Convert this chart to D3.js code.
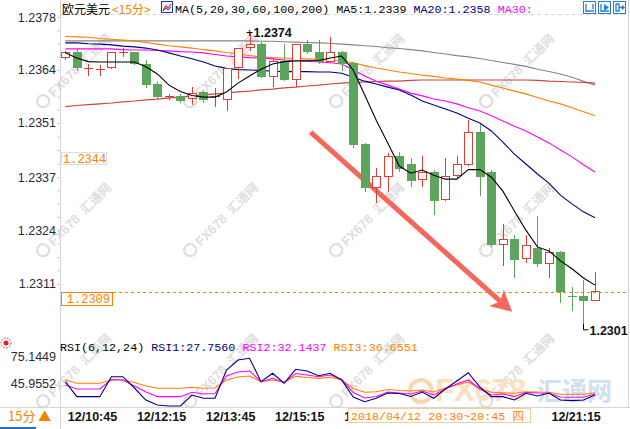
<!DOCTYPE html>
<html><head><meta charset="utf-8">
<script src="https://cdn.jsdelivr.net/npm/d3@7"></script>
<style>body{margin:0;background:#fff;overflow:hidden}svg{display:block}</style>
</head><body><svg id="c" width="630" height="429"></svg>
<script>
// ---------- DATA ----------
const opens  = [1.23678,1.23692,1.23650,1.23648,1.23651,1.23690,1.23691,1.23661,1.23611,1.23580,1.23582,1.23575,1.23592,1.23581,1.23572,1.23651,1.23701,1.23712,1.23630,1.23670,1.23622,1.23712,1.23691,1.23668,1.23691,1.23664,1.23461,1.23352,1.23379,1.23431,1.23411,1.23371,1.23392,1.23321,1.23381,1.23409,1.23491,1.23391,1.23209,1.23223,1.23172,1.23201,1.23161,1.23189,1.23081,1.23080,1.23068];
const highs  = [1.23695,1.23700,1.23661,1.23660,1.23692,1.23701,1.23693,1.23672,1.23619,1.23588,1.23588,1.23605,1.23597,1.23601,1.23652,1.23701,1.23742,1.23718,1.23676,1.23712,1.23713,1.23722,1.23722,1.23731,1.23695,1.23666,1.23463,1.23402,1.23439,1.23442,1.23425,1.23431,1.23395,1.23425,1.23431,1.23521,1.23511,1.23395,1.23260,1.23233,1.23233,1.23281,1.23199,1.23192,1.23102,1.23120,1.23141];
const lows   = [1.23672,1.23645,1.23633,1.23633,1.23650,1.23680,1.23659,1.23603,1.23572,1.23572,1.23565,1.23559,1.23565,1.23555,1.23545,1.23624,1.23695,1.23628,1.23605,1.23620,1.23605,1.23686,1.23661,1.23664,1.23644,1.23450,1.23342,1.23312,1.23342,1.23392,1.23354,1.23354,1.23283,1.23318,1.23373,1.23405,1.23331,1.23202,1.23155,1.23124,1.23163,1.23153,1.23124,1.23063,1.23042,1.23010,1.23066];
const closes = [1.23691,1.23651,1.23652,1.23649,1.23691,1.23691,1.23661,1.23609,1.23580,1.23581,1.23569,1.23590,1.23572,1.23582,1.23651,1.23701,1.23711,1.23630,1.23670,1.23622,1.23712,1.23691,1.23668,1.23691,1.23662,1.23459,1.23352,1.23381,1.23431,1.23398,1.23369,1.23392,1.23318,1.23381,1.23410,1.23491,1.23379,1.23209,1.23222,1.23170,1.23208,1.23160,1.23189,1.23090,1.23079,1.23067,1.23092];

const ma5   = [1.23690,1.23677,1.23668,1.23667,1.23667,1.23667,1.23667,1.23655,1.23637,1.23609,1.23593,1.23583,1.23579,1.23579,1.23592,1.23614,1.23632,1.23649,1.23662,1.23668,1.23670,1.23670,1.23671,1.23677,1.23682,1.23647,1.23584,1.23521,1.23464,1.23406,1.23388,1.23396,1.23383,1.23373,1.23373,1.23397,1.23397,1.23378,1.23343,1.23293,1.23245,1.23203,1.23193,1.23168,1.23148,1.23125,1.23107];
const ma20  = [1.23715,1.23715,1.23713,1.23712,1.23710,1.23707,1.23705,1.23702,1.23697,1.23690,1.23682,1.23675,1.23667,1.23657,1.23651,1.23648,1.23647,1.23646,1.23644,1.23643,1.23643,1.23643,1.23642,1.23642,1.23639,1.23629,1.23619,1.23612,1.23604,1.23597,1.23584,1.23569,1.23559,1.23549,1.23539,1.23526,1.23514,1.23494,1.23466,1.23436,1.23411,1.23386,1.23363,1.23333,1.23311,1.23291,1.23276];
const ma30  = [1.23700,1.23700,1.23700,1.23700,1.23700,1.23698,1.23697,1.23697,1.23696,1.23695,1.23693,1.23692,1.23690,1.23686,1.23682,1.23680,1.23678,1.23677,1.23675,1.23672,1.23671,1.23670,1.23667,1.23665,1.23662,1.23647,1.23632,1.23619,1.23609,1.23599,1.23589,1.23582,1.23574,1.23569,1.23562,1.23552,1.23544,1.23532,1.23519,1.23506,1.23494,1.23479,1.23464,1.23446,1.23429,1.23409,1.23391];
const ma60  = [1.23731,1.23730,1.23729,1.23726,1.23724,1.23722,1.23720,1.23716,1.23712,1.23708,1.23705,1.23702,1.23698,1.23695,1.23691,1.23687,1.23683,1.23680,1.23678,1.23677,1.23676,1.23675,1.23673,1.23672,1.23671,1.23665,1.23658,1.23652,1.23647,1.23642,1.23638,1.23634,1.23631,1.23627,1.23624,1.23621,1.23617,1.23609,1.23602,1.23594,1.23587,1.23578,1.23569,1.23562,1.23552,1.23542,1.23532];
const ma100 = [1.23555,1.23558,1.23560,1.23562,1.23564,1.23567,1.23569,1.23572,1.23574,1.23577,1.23579,1.23582,1.23584,1.23587,1.23589,1.23592,1.23594,1.23597,1.23599,1.23602,1.23604,1.23607,1.23609,1.23612,1.23614,1.23616,1.23617,1.23618,1.23619,1.23619,1.23621,1.23622,1.23622,1.23622,1.23622,1.23622,1.23622,1.23622,1.23622,1.23622,1.23622,1.23621,1.23619,1.23618,1.23617,1.23616,1.23614];
const ma200 = [1.23720,1.23720,1.23720,1.23720,1.23720,1.23720,1.23720,1.23720,1.23720,1.23720,1.23720,1.23720,1.23720,1.23720,1.23720,1.23720,1.23720,1.23719,1.23719,1.23718,1.23717,1.23716,1.23715,1.23714,1.23712,1.23710,1.23708,1.23706,1.23703,1.23701,1.23698,1.23695,1.23691,1.23687,1.23683,1.23680,1.23676,1.23671,1.23666,1.23661,1.23656,1.23649,1.23643,1.23637,1.23629,1.23619,1.23609];

const rsi1 = [47.7,31.3,31.3,31.3,53.2,53.2,40.8,27.6,22.2,21.1,21.1,33.1,29.5,29.5,60.5,71.5,73.4,47.7,56.9,46.0,61.3,59.5,54.3,56.9,49.6,30.9,25.8,29.5,35.3,34.8,31.5,36.4,29.5,39.7,48.5,57.6,41.9,31.3,31.3,27.6,35.0,32.0,35.3,27.6,26.9,27.6,33.1];
const rsi2 = [44.1,39.7,39.7,39.7,50.1,49.6,43.0,36.4,31.3,31.3,31.3,36.1,34.2,34.8,54.0,58.4,59.5,47.7,51.4,46.6,56.7,55.1,53.2,55.1,50.1,35.9,29.8,31.5,36.4,35.3,34.2,37.5,33.1,39.7,45.2,49.6,39.7,33.1,34.2,31.5,35.9,35.3,35.0,30.9,30.6,30.6,34.2];
const rsi3 = [49.6,46.0,46.0,46.0,49.6,49.6,46.8,43.0,40.5,40.5,40.5,41.6,40.5,40.8,49.6,52.9,54.0,47.7,49.6,47.1,53.6,52.3,51.4,52.5,49.6,40.3,36.1,36.7,39.2,38.1,37.5,38.6,36.4,40.8,44.1,47.4,39.7,36.1,35.5,35.0,36.7,36.4,36.1,33.9,33.9,33.9,35.6];

const yTickVals   = [1.23780,1.23647,1.23514,1.23378,1.23245,1.23110];
const yTickLabels = ["1.2378","1.2364","1.2351","1.2337","1.2324","1.2311"];
const rsiTickVals   = [75.1449,45.9552];
const rsiTickLabels = ["75.1449","45.9552"];
const timeIdx    = [0,6,12,18,24,42];
const timeLabels = ["12/10:45","12/12:15","12/13:45","12/15:15","12/16:45","12/21:15"];
const maHeader  = ["1.2339","1.2358"];
const rsiHeader = ["27.7560","32.1437","36.6551"];
const refPrice  = 1.2344;
const lastPrice = 1.2309;
const hiLabel = {i:16, p:1.2374, t:"1.2374"};
const loLabel = {i:45, p:1.2301, t:"1.2301"};
const arrowPts = [{i:21.3, p:1.23491},{i:38.8, p:1.23040}];
const cursorText = "2018/04/12 20:30~20:45 四";

// ---------- SCALES ----------
const svg = d3.select('#c');
const x  = d3.scaleLinear().domain([0,46]).range([65.3,595]);
const y  = d3.scaleLinear().domain([1.2378,1.2301]).range([17,323.8]);
const yr = d3.scaleLinear().domain([45.9552,75.1449]).range([383.3,356.7]);
const UP='#dc3f36', DN='#5da55d';
const mono = "'Liberation Mono','DejaVu Sans Mono',monospace";
const sans = "'Liberation Sans',Arial,sans-serif";
const cjk  = "'Noto Sans CJK SC',sans-serif";

// ---------- FRAME ----------
svg.append('rect').attr('width',630).attr('height',429).attr('fill','#fff');
const defs = svg.append('defs');
defs.append('clipPath').attr('id','tclip').append('rect').attr('x',0).attr('y',400).attr('width',348).attr('height',29);

// watermarks
const wmG = svg.append('g');
[75,222,368,518].forEach(cx=>[75,224,375].forEach(cy=>{
  const g = wmG.append('g').attr('transform',`translate(${cx},${cy}) rotate(-45)`);
  g.append('circle').attr('cx',-41).attr('cy',-4).attr('r',6).attr('fill','none').attr('stroke','#dedede').attr('stroke-width',2.2);
  g.append('text').attr('x',-31).attr('y',1).attr('font-family',sans).attr('font-weight','bold').attr('font-size',13)
   .attr('fill','#dedede').text('FX678 ');
  g.append('text').attr('x',14).attr('y',1).attr('font-family',cjk).attr('font-weight','bold').attr('font-size',12.5)
   .attr('fill','#dedede').text('汇通网');
}));
// big logo in RSI panel
const lg = svg.append('g');
lg.append('circle').attr('cx',421).attr('cy',391).attr('r',11).attr('fill','none').attr('stroke','#fbd6b3').attr('stroke-width',4);
lg.append('text').attr('x',435).attr('y',401).attr('font-family',sans).attr('font-weight','bold').attr('font-size',31)
  .attr('fill','#fde0c4').text('FX678');
lg.append('text').attr('x',537).attr('y',399.5).attr('font-family',cjk).attr('font-weight','bold').attr('font-size',25)
  .attr('fill','#cfe0f3').text('汇通网');

// axis lines
const lineG = svg.append('g').attr('stroke','#d4d4d4').attr('shape-rendering','crispEdges');
lineG.append('line').attr('x1',60.5).attr('x2',60.5).attr('y1',0).attr('y2',429);
lineG.append('line').attr('x1',628.5).attr('x2',628.5).attr('y1',0).attr('y2',407);
lineG.append('line').attr('x1',0).attr('x2',630).attr('y1',407.5).attr('y2',407.5);
svg.append('line').attr('x1',61).attr('x2',628).attr('y1',14.5).attr('y2',14.5)
  .attr('stroke','#d8d8d8').attr('stroke-dasharray','4,3').attr('shape-rendering','crispEdges');

// y axis (price)
const yAx = svg.append('g').attr('transform','translate(56,0)')
  .call(d3.axisLeft(y).tickValues(yTickVals).tickFormat((d,i)=>yTickLabels[i]).tickSize(0).tickPadding(0));
yAx.select('.domain').remove();
yAx.selectAll('text').attr('font-family',sans).attr('font-size',12.5).attr('fill','#2a2a3a');
const minor=[];
for(let k=0;k<yTickVals.length-1;k++){const a=yTickVals[k],b=yTickVals[k+1];for(let j=1;j<4;j++)minor.push(a+(b-a)*j/4);}
const mAx = svg.append('g').attr('transform','translate(60,0)')
  .call(d3.axisLeft(y).tickValues(minor.concat(yTickVals)).tickFormat('').tickSize(3));
mAx.select('.domain').remove();
mAx.selectAll('line').attr('stroke','#d0d0d0');

// rsi axis
const rAx = svg.append('g').attr('transform','translate(56,0)')
  .call(d3.axisLeft(yr).tickValues(rsiTickVals).tickFormat((d,i)=>rsiTickLabels[i]).tickSize(0).tickPadding(0));
rAx.select('.domain').remove();
rAx.selectAll('text').attr('font-family',sans).attr('font-size',12.5).attr('fill','#2a2a3a');

// ---------- MA LINES ----------
const line = d3.line().x((d,i)=>x(i)).y(d=>y(d));
[[ma200,'#858585'],[ma100,'#d8403a'],[ma60,'#ff8000'],[ma30,'#ff00ff'],[ma20,'#000080']].forEach(([arr,c])=>{
  svg.append('path').attr('d',line(arr)).attr('fill','none').attr('stroke',c).attr('stroke-width',1.1);
});

// ---------- ARROW ----------
(function(){
  const x0=x(arrowPts[0].i), y0=y(arrowPts[0].p), x1=x(arrowPts[1].i), y1=y(arrowPts[1].p);
  const dx=x1-x0, dy=y1-y0, L=Math.hypot(dx,dy), ux=dx/L, uy=dy/L, px=-uy, py=ux;
  const hl=21, hw=11, notch=16;
  const bx=x1-ux*hl, by=y1-uy*hl, nx=x1-ux*notch, ny=y1-uy*notch;
  svg.append('line').attr('x1',x0).attr('y1',y0).attr('x2',nx).attr('y2',ny)
    .attr('stroke','#f5675a').attr('stroke-width',5);
  svg.append('path').attr('d',`M${x1},${y1}L${bx+px*hw},${by+py*hw}L${nx},${ny}L${bx-px*hw},${by-py*hw}Z`)
    .attr('fill','#f5675a');
})();

// ---------- CANDLES ----------
const cg = svg.append('g').attr('shape-rendering','crispEdges');
opens.forEach((o,i)=>{
  const c=closes[i], h=highs[i], l=lows[i], up=c>=o, col=up?UP:DN;
  const cx=Math.round(x(i))+0.5;
  const yt=Math.round(y(Math.max(o,c))), yb=Math.round(y(Math.min(o,c)));
  const yh=Math.round(y(h)), yl=Math.round(y(l));
  if(yb-yt<2){
    cg.append('line').attr('x1',cx).attr('x2',cx).attr('y1',yh).attr('y2',yl).attr('stroke',col);
    cg.append('line').attr('x1',cx-4.5).attr('x2',cx+4.5).attr('y1',yt+0.5).attr('y2',yt+0.5).attr('stroke',col).attr('stroke-width',1.5);
  } else if(up){
    cg.append('line').attr('x1',cx).attr('x2',cx).attr('y1',yh).attr('y2',yt).attr('stroke',col);
    cg.append('line').attr('x1',cx).attr('x2',cx).attr('y1',yb).attr('y2',yl).attr('stroke',col);
    cg.append('rect').attr('x',cx-4).attr('y',yt+0.5).attr('width',8).attr('height',yb-yt-1)
      .attr('fill','#fff').attr('stroke',col).attr('stroke-width',1.5);
  } else {
    cg.append('line').attr('x1',cx).attr('x2',cx).attr('y1',yh).attr('y2',yl).attr('stroke',col);
    cg.append('rect').attr('x',cx-4.5).attr('y',yt).attr('width',9).attr('height',yb-yt).attr('fill',col);
  }
});

svg.append('path').attr('d',line(ma5)).attr('fill','none').attr('stroke','#000').attr('stroke-width',1.1);

// ---------- PRICE LABELS ----------
svg.append('rect').attr('x',61.5).attr('y',y(refPrice)+0.5).attr('width',45).attr('height',12)
  .attr('fill','#fff').attr('stroke','#dddddd').attr('shape-rendering','crispEdges');
svg.append('text').attr('x',63).attr('y',y(refPrice)+10.5).attr('font-family',mono).attr('font-size',12)
  .attr('fill','#ff8000').text(refPrice.toFixed(4));
svg.append('line').attr('x1',113).attr('x2',628).attr('y1',Math.round(y(lastPrice))+0.5).attr('y2',Math.round(y(lastPrice))+0.5)
  .attr('stroke','#ff8000').attr('stroke-dasharray','3,3').attr('shape-rendering','crispEdges');
svg.append('rect').attr('x',61.5).attr('y',Math.round(y(lastPrice))+0.5).attr('width',51).attr('height',13)
  .attr('fill','#fff').attr('stroke','#ff8000').attr('shape-rendering','crispEdges');
svg.append('text').attr('x',110).attr('y',y(lastPrice)+11).attr('text-anchor','end').attr('font-family',mono).attr('font-size',12)
  .attr('fill','#ff8000').text(lastPrice.toFixed(4));
svg.append('text').attr('x',x(hiLabel.i)).attr('y',y(hiLabel.p)+4).attr('text-anchor','middle')
  .attr('font-family',sans).attr('font-size',12).attr('fill','#000').text('+');
svg.append('text').attr('x',x(hiLabel.i)+4).attr('y',y(hiLabel.p)+4.5)
  .attr('font-family',sans).attr('font-weight','bold').attr('font-size',12.5).attr('fill','#111').text(hiLabel.t);
svg.append('path').attr('d',`M${Math.round(x(loLabel.i))+0.5},${y(loLabel.p)}v6h5`).attr('fill','none').attr('stroke','#000');
svg.append('text').attr('x',x(loLabel.i)+6).attr('y',y(loLabel.p)+11.5)
  .attr('font-family',sans).attr('font-weight','bold').attr('font-size',12.5).attr('fill','#111').text(loLabel.t);

// ---------- RSI ----------
const rline = d3.line().x((d,i)=>x(i)).y(d=>yr(d));
[[rsi3,'#ff8000'],[rsi2,'#ff00ff'],[rsi1,'#000080']].forEach(([arr,c])=>{
  svg.append('path').attr('d',rline(arr)).attr('fill','none').attr('stroke',c).attr('stroke-width',1.1);
});

// ---------- HEADERS ----------
svg.append('text').attr('x',62).attr('y',13.9).attr('font-family',cjk).attr('font-size',12).attr('fill','#000').text('欧元美元');
svg.append('text').attr('x',112).attr('y',13.9).attr('font-family',cjk).attr('font-size',12).attr('fill','#f08300').text('<15分>');
const ic = svg.append('g').attr('shape-rendering','crispEdges');
ic.append('rect').attr('x',161.5).attr('y',1.5).attr('width',11).attr('height',11).attr('fill','#eef3ff').attr('stroke','#1d3fa0');
svg.append('path').attr('d','M163,10L166,6L168,8L171,4').attr('fill','none').attr('stroke','#e03030').attr('stroke-width',1.2);
svg.append('path').attr('d','M163,11L166,8L168,10L171,7').attr('fill','none').attr('stroke','#2050c0').attr('stroke-width',1);

const hdr = svg.append('text').attr('x',175).attr('y',12.5).attr('font-family',mono).attr('font-size',11.7);
hdr.append('tspan').attr('fill','#000').text(`MA(5,20,30,60,100,200) MA5:${maHeader[0]} `);
hdr.append('tspan').attr('fill','#000080').text(`MA20:${maHeader[1]} `);
hdr.append('tspan').attr('fill','#ff00ff').text('MA30:');

[583,598,613].forEach((bx,k)=>{
  svg.append('rect').attr('x',bx+0.5).attr('y',1.5).attr('width',12).attr('height',12).attr('fill','#fff')
    .attr('stroke','#2a7fd4').attr('shape-rendering','crispEdges');
  const g=svg.append('g').attr('stroke','#2a7fd4').attr('fill','#2a7fd4').attr('stroke-width',1.3);
  if(k===0){g.append('path').attr('d',`M${bx+3},4V12M${bx+3},11H${bx+11}M${bx+10},4V9`).attr('fill','none');}
  if(k===1){g.append('path').attr('d',`M${bx+3},4V12M${bx+3},11H${bx+11}`).attr('fill','none');g.append('path').attr('d',`M${bx+6},4L${bx+11},7.5L${bx+6},11Z`).attr('stroke','none');}
  if(k===2){g.append('path').attr('d',`M${bx+3},4V11H${bx+6}V4Z`).attr('fill','none');g.append('path').attr('d',`M${bx+6},7.5H${bx+11}M${bx+9},5.5L${bx+11},7.5L${bx+9},9.5`).attr('fill','none');}
});

const rh = svg.append('text').attr('x',60).attr('y',351).attr('font-family',mono).attr('font-size',11.7);
rh.append('tspan').attr('fill','#000').text('RSI(6,12,24) ');
rh.append('tspan').attr('fill','#000080').text(`RSI1:${rsiHeader[0]} `);
rh.append('tspan').attr('fill','#ff00ff').text(`RSI2:${rsiHeader[1]} `);
rh.append('tspan').attr('fill','#ff8000').text(`RSI3:${rsiHeader[2]}`);
svg.append('circle').attr('cx',6).attr('cy',343).attr('r',2.5).attr('fill','#e02020');
svg.append('circle').attr('cx',6).attr('cy',343).attr('r',5).attr('fill','none').attr('stroke','#e02020').attr('stroke-dasharray','1.5,1.5');

// ---------- TIME AXIS ----------
const tWrap = svg.append('g').attr('clip-path','url(#tclip)');
const tAx = tWrap.append('g').attr('transform','translate(0,408)')
  .call(d3.axisBottom(x).tickValues(timeIdx.slice(0,5)).tickFormat((d,i)=>timeLabels[i]).tickSize(0).tickPadding(0));
const tAx2 = svg.append('g').attr('transform','translate(0,408)')
  .call(d3.axisBottom(x).tickValues(timeIdx.slice(5)).tickFormat((d,i)=>timeLabels[i+5]).tickSize(0).tickPadding(0));
[tAx,tAx2].forEach(a=>{
  a.select('.domain').remove();
  a.selectAll('text').attr('text-anchor','start').attr('dx',2).attr('dy',0).attr('y',12.5).attr('font-family',sans)
    .attr('font-weight','bold').attr('font-size',12.5).attr('fill','#111');
});
svg.append('rect').attr('x',348.5).attr('y',408.5).attr('width',182).attr('height',14).attr('fill','#fff')
  .attr('stroke','#f4cf9c').attr('shape-rendering','crispEdges');
svg.append('text').attr('x',351).attr('y',420).attr('font-family',mono).attr('font-size',11.7).attr('fill','#ff8000').text(cursorText);
svg.append('text').attr('x',8).attr('y',421).attr('font-family',cjk).attr('font-size',13).attr('fill','#f08300').text('15分 ▲');
svg.append('rect').attr('x',0).attr('y',427).attr('width',36).attr('height',2).attr('fill','#1f72c8');
</script></body></html>
